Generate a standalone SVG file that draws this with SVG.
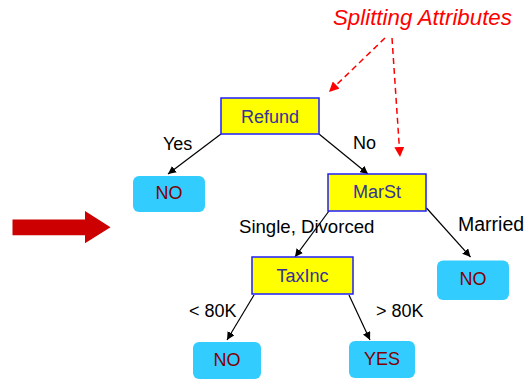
<svg xmlns="http://www.w3.org/2000/svg" width="530" height="382" viewBox="0 0 530 382">
<defs>
<marker id="ah" viewBox="0 0 10 10" refX="10" refY="5" markerWidth="8" markerHeight="8" markerUnits="userSpaceOnUse" orient="auto"><path d="M0,0 L10,5 L0,10 z" fill="#000"/></marker>
<marker id="rh" viewBox="0 0 10 10" refX="10" refY="5" markerWidth="10" markerHeight="10" markerUnits="userSpaceOnUse" orient="auto"><path d="M0,0 L10,5 L0,10 z" fill="#ff0000"/></marker>
<style>
text{font-family:"Liberation Sans",Arial,sans-serif;font-size:18px}
.dec rect{fill:#ffff00;stroke:#1f1fff;stroke-width:1.5}
.dec text{fill:#333399;text-anchor:middle}
.leaf rect{fill:#33ccff}
.leaf text{fill:#800000;text-anchor:middle}
.lbl{fill:#000}
.edge{stroke:#000;stroke-width:1.2;fill:none;marker-end:url(#ah)}
.dash{stroke:#ff0000;stroke-width:1.5;stroke-dasharray:6,4;fill:none;marker-end:url(#rh)}
</style>
</defs>
<polygon points="12.5,219.5 85,219.5 85,211 110.5,227.3 85,243.3 85,235.3 12.5,235.3" fill="#cc0000"/>
<text x="333" y="25" font-style="italic" style="font-size:22.3px" fill="#ff0000">Splitting Attributes</text>
<g id="connectors">
<line class="dash" x1="385" y1="38" x2="329" y2="92"/>
<line class="dash" x1="392" y1="38" x2="400" y2="157"/>
<line class="edge" x1="221" y1="134" x2="168" y2="174"/>
<line class="edge" x1="319" y1="134" x2="368" y2="174"/>
<line class="edge" x1="329" y1="211" x2="295" y2="257"/>
<line class="edge" x1="426.5" y1="208" x2="470.5" y2="257"/>
<line class="edge" x1="254" y1="295" x2="227" y2="340"/>
<line class="edge" x1="349" y1="295" x2="370" y2="340"/>
<text class="lbl" x="163" y="150">Yes</text>
<text class="lbl" x="353" y="149">No</text>
<text class="lbl" x="239" y="233" style="font-size:18.6px">Single, Divorced</text>
<text class="lbl" x="458" y="231" style="font-size:19.5px">Married</text>
<text class="lbl" x="189" y="317">&lt; 80K</text>
<text class="lbl" x="376" y="317">&gt; 80K</text>
</g>
<g id="refund" class="dec"><rect x="221" y="98" width="98" height="36"/><text x="270" y="123">Refund</text></g>
<g id="marst" class="dec"><rect x="328" y="174" width="98" height="37"/><text x="377" y="198">MarSt</text></g>
<g id="taxinc" class="dec"><rect x="252" y="257" width="101" height="37"/><text x="302.5" y="282">TaxInc</text></g>
<g id="no1" class="leaf"><rect x="133" y="176" width="72" height="36" rx="6"/><text x="169" y="199">NO</text></g>
<g id="no2" class="leaf"><rect x="437" y="260.5" width="72" height="39.5" rx="6"/><text x="473" y="285">NO</text></g>
<g id="no3" class="leaf"><rect x="193" y="342" width="68" height="37" rx="6"/><text x="227" y="366">NO</text></g>
<g id="yes" class="leaf"><rect x="349" y="341" width="66" height="37" rx="6"/><text x="382" y="365">YES</text></g>
</svg>
